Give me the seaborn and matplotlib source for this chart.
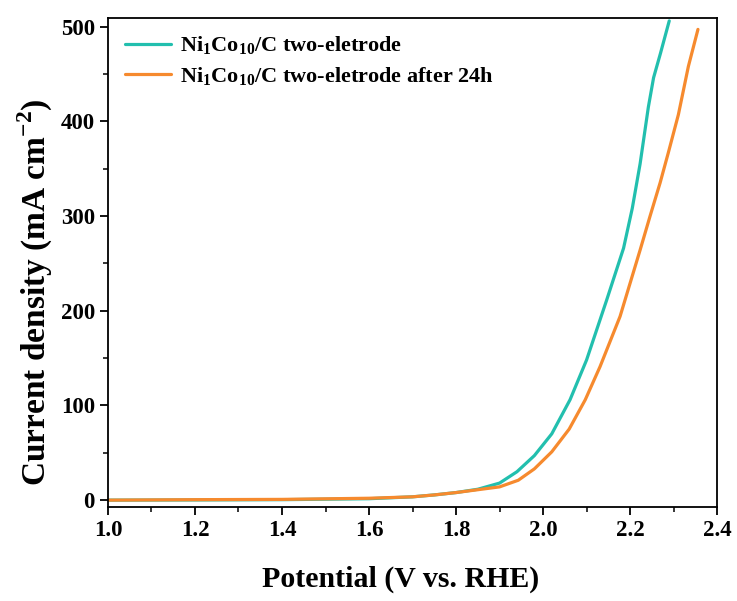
import numpy as np
import pandas as pd
import seaborn as sns
import matplotlib.pyplot as plt
from matplotlib.ticker import MultipleLocator

# LSV data
v_fresh = [1.0, 1.2, 1.4, 1.6, 1.7, 1.75, 1.8, 1.85, 1.9, 1.94, 1.98, 2.02, 2.062, 2.1,
           2.146, 2.185, 2.205, 2.223, 2.242, 2.254, 2.27, 2.29]
j_fresh = [0, 0.2, 0.5, 1.5, 3.5, 5.5, 8, 11.5, 18, 30, 47, 70, 106, 148,
           211, 266, 308, 355, 415, 446, 472, 506]
v_24h = [1.0, 1.2, 1.4, 1.6, 1.7, 1.75, 1.8, 1.85, 1.9, 1.943, 1.98, 2.02, 2.06, 2.097,
         2.131, 2.177, 2.223, 2.246, 2.269, 2.288, 2.311, 2.334, 2.356]
j_24h = [0, 0.5, 0.8, 2, 3.5, 5.5, 8, 11, 14, 21, 33, 51, 75, 106,
         141, 194, 264, 300, 335, 367, 407, 458, 497]

lab_fresh = r'Ni$_{\mathbf{1}}$Co$_{\mathbf{10}}$/C two-eletrode'
lab_24h = r'Ni$_{\mathbf{1}}$Co$_{\mathbf{10}}$/C two-eletrode after 24h'

df = pd.concat([
    pd.DataFrame({'V': v_fresh, 'J': j_fresh, 'sample': lab_fresh}),
    pd.DataFrame({'V': v_24h, 'J': j_24h, 'sample': lab_24h}),
])

sns.set_style('ticks')
plt.rcParams['font.family'] = ['Liberation Serif', 'DejaVu Serif']
plt.rcParams['font.weight'] = 'bold'
plt.rcParams['mathtext.fontset'] = 'custom'
plt.rcParams['mathtext.rm'] = 'Liberation Serif:bold'
plt.rcParams['mathtext.bf'] = 'Liberation Serif:bold'
for k in ['text.color', 'axes.labelcolor', 'xtick.color', 'ytick.color']:
    plt.rcParams[k] = 'black'

fig = plt.figure(figsize=(7.37, 6.01), dpi=100)
ax = fig.add_axes([0.1465, 0.156, 0.8265, 0.814])

palette = {lab_fresh: '#22bfae', lab_24h: '#f68a2e'}
sns.lineplot(data=df, x='V', y='J', hue='sample', palette=palette, linewidth=2.3,
             sort=False, estimator=None, ax=ax)

ax.set_xlim(1.0, 2.4)
ax.set_ylim(-7.5, 509)
ax.xaxis.set_minor_locator(MultipleLocator(0.1))
ax.yaxis.set_major_locator(MultipleLocator(100))
ax.yaxis.set_minor_locator(MultipleLocator(50))
ticks = np.arange(1.0, 2.41, 0.2)
ax.set_xticks(ticks)
ax.set_xticklabels([f'{t:.1f}' for t in ticks])
ax.tick_params(which='major', length=6, width=1.3, labelsize=16.5, direction='out')
ax.tick_params(axis='x', pad=3)
ax.tick_params(which='minor', length=3.5, width=1.1, direction='out')
for s in ax.spines.values():
    s.set_linewidth(1.3)
    s.set_color('black')

ax.set_xlabel('Potential (V vs. RHE)', fontsize=21.5, fontweight='bold')
ax.xaxis.set_label_coords(0.481, -0.12)
ax.set_ylabel(r'Current density (mA cm$^{\mathbf{-2}}$)', fontsize=24, fontweight='bold')
ax.yaxis.set_label_coords(-0.087, 0.44)

leg = ax.legend(loc='upper left', frameon=False, fontsize=16, handlelength=2.1,
                handletextpad=0.4, borderaxespad=0.35, labelspacing=0.35)
for t in leg.get_texts():
    t.set_fontweight('bold')

fig.savefig('out.png', dpi=100)
